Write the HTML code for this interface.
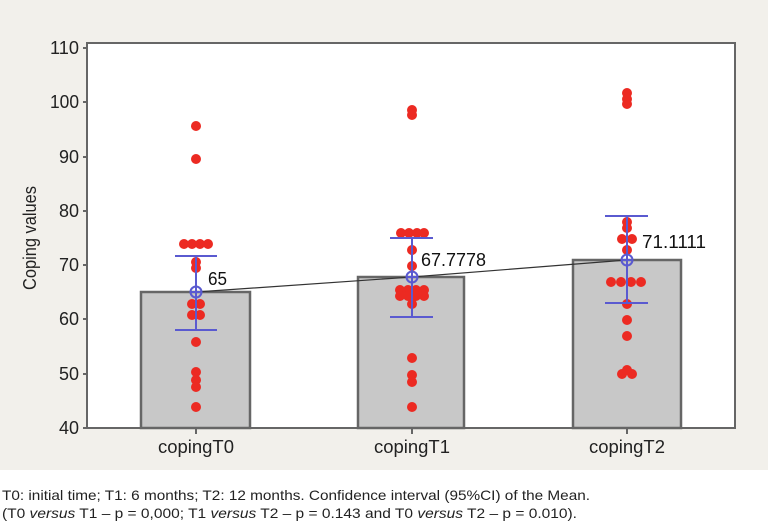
<!DOCTYPE html>
<html><head><style>
body{margin:0;width:768px;height:524px;overflow:hidden;background:#fff;font-family:"Liberation Sans",sans-serif}
</style></head><body>
<svg width="768" height="524" style="position:absolute;left:0;top:0" font-family="Liberation Sans, sans-serif">
<rect x="0" y="0" width="768" height="470" fill="#f2f0eb"/>
<rect x="87" y="43" width="648" height="385" fill="#fff" stroke="#666" stroke-width="2"/>
<g font-size="18" fill="#222" text-anchor="end">
<text x="79" y="54" textLength="29" lengthAdjust="spacingAndGlyphs">110</text><text x="79" y="108" textLength="29" lengthAdjust="spacingAndGlyphs">100</text><text x="79" y="163" textLength="20" lengthAdjust="spacingAndGlyphs">90</text><text x="79" y="217" textLength="20" lengthAdjust="spacingAndGlyphs">80</text><text x="79" y="271" textLength="20" lengthAdjust="spacingAndGlyphs">70</text><text x="79" y="325" textLength="20" lengthAdjust="spacingAndGlyphs">60</text><text x="79" y="380" textLength="20" lengthAdjust="spacingAndGlyphs">50</text><text x="79" y="434" textLength="20" lengthAdjust="spacingAndGlyphs">40</text>
</g>
<g stroke="#666" stroke-width="2"><line x1="83" y1="48" x2="87" y2="48"/><line x1="83" y1="102" x2="87" y2="102"/><line x1="83" y1="157" x2="87" y2="157"/><line x1="83" y1="211" x2="87" y2="211"/><line x1="83" y1="265" x2="87" y2="265"/><line x1="83" y1="319" x2="87" y2="319"/><line x1="83" y1="374" x2="87" y2="374"/><line x1="83" y1="428" x2="87" y2="428"/>
<line x1="196" y1="428" x2="196" y2="434"/><line x1="412" y1="428" x2="412" y2="434"/><line x1="627" y1="428" x2="627" y2="434"/></g>
<text x="36" y="238" font-size="18" fill="#222" text-anchor="middle" transform="rotate(-90 36 238)" textLength="104" lengthAdjust="spacingAndGlyphs">Coping values</text>
<g font-size="18" fill="#222" text-anchor="middle"><text x="196" y="453" textLength="76" lengthAdjust="spacingAndGlyphs">copingT0</text><text x="412" y="453" textLength="76" lengthAdjust="spacingAndGlyphs">copingT1</text><text x="627" y="453" textLength="76" lengthAdjust="spacingAndGlyphs">copingT2</text></g>
<g fill="#c8c8c8" stroke="#666" stroke-width="2.5">
<rect x="141" y="292" width="109" height="136"/><rect x="358" y="277" width="106" height="151"/><rect x="573" y="260" width="108" height="168"/></g>
<g fill="#ec2a22">
<circle cx="196" cy="126" r="5"/><circle cx="196" cy="159" r="5"/>
<circle cx="184" cy="244" r="5"/><circle cx="192" cy="244" r="5"/><circle cx="200" cy="244" r="5"/><circle cx="208" cy="244" r="5"/>
<circle cx="196" cy="262" r="5"/><circle cx="196" cy="268" r="5"/>
<circle cx="192" cy="304" r="5"/><circle cx="200" cy="304" r="5"/><circle cx="192" cy="315" r="5"/><circle cx="200" cy="315" r="5"/>
<circle cx="196" cy="342" r="5"/><circle cx="196" cy="372" r="5"/><circle cx="196" cy="380" r="5"/><circle cx="196" cy="387" r="5"/><circle cx="196" cy="407" r="5"/>
<circle cx="412" cy="110" r="5"/><circle cx="412" cy="115" r="5"/>
<circle cx="401" cy="233" r="5"/><circle cx="409" cy="233" r="5"/><circle cx="417" cy="233" r="5"/><circle cx="424" cy="233" r="5"/>
<circle cx="412" cy="250" r="5"/><circle cx="412" cy="266" r="5"/>
<circle cx="400" cy="290" r="5"/><circle cx="408" cy="290" r="5"/><circle cx="416" cy="290" r="5"/><circle cx="424" cy="290" r="5"/>
<circle cx="400" cy="296" r="5"/><circle cx="408" cy="296" r="5"/><circle cx="416" cy="296" r="5"/><circle cx="424" cy="296" r="5"/>
<circle cx="412" cy="304" r="5"/><circle cx="412" cy="358" r="5"/><circle cx="412" cy="375" r="5"/><circle cx="412" cy="382" r="5"/><circle cx="412" cy="407" r="5"/>
<circle cx="627" cy="93" r="5"/><circle cx="627" cy="99" r="5"/><circle cx="627" cy="104" r="5"/>
<circle cx="627" cy="222" r="5"/><circle cx="627" cy="228" r="5"/><circle cx="622" cy="239" r="5"/><circle cx="632" cy="239" r="5"/><circle cx="627" cy="250" r="5"/>
<circle cx="611" cy="282" r="5"/><circle cx="621" cy="282" r="5"/><circle cx="631" cy="282" r="5"/><circle cx="641" cy="282" r="5"/>
<circle cx="627" cy="304" r="5"/><circle cx="627" cy="320" r="5"/><circle cx="627" cy="336" r="5"/>
<circle cx="622" cy="374" r="5"/><circle cx="632" cy="374" r="5"/><circle cx="627" cy="370" r="5"/>
</g>
<polyline points="196,292 412,277 627,260" fill="none" stroke="#333" stroke-width="1.2"/>
<g stroke="#5a5ad0" stroke-width="2" fill="none">
<line x1="196" y1="256" x2="196" y2="330"/><line x1="175" y1="256" x2="217" y2="256"/><line x1="175" y1="330" x2="217" y2="330"/><circle cx="196" cy="292" r="5.5"/><line x1="190.5" y1="292" x2="201.5" y2="292"/><line x1="196" y1="286.5" x2="196" y2="297.5"/>
<line x1="412" y1="238" x2="412" y2="317"/><line x1="390" y1="238" x2="433" y2="238"/><line x1="390" y1="317" x2="433" y2="317"/><circle cx="412" cy="277" r="5.5"/><line x1="406.5" y1="277" x2="417.5" y2="277"/><line x1="412" y1="271.5" x2="412" y2="282.5"/>
<line x1="627" y1="216" x2="627" y2="303"/><line x1="605" y1="216" x2="648" y2="216"/><line x1="605" y1="303" x2="648" y2="303"/><circle cx="627" cy="260" r="5.5"/><line x1="621.5" y1="260" x2="632.5" y2="260"/><line x1="627" y1="254.5" x2="627" y2="265.5"/>
</g>
<g font-size="18" fill="#111"><text x="208" y="285" textLength="19" lengthAdjust="spacingAndGlyphs">65</text><text x="421" y="266" textLength="65" lengthAdjust="spacingAndGlyphs">67.7778</text><text x="642" y="248" textLength="64" lengthAdjust="spacingAndGlyphs">71.1111</text></g>
<g font-size="14" fill="#222">
<text x="2" y="500" textLength="588" lengthAdjust="spacingAndGlyphs">T0: initial time; T1: 6 months; T2: 12 months. Confidence interval (95%CI) of the Mean.</text>
<text x="2" y="518" textLength="575" lengthAdjust="spacingAndGlyphs">(T0 <tspan font-style="italic">versus</tspan> T1 – p = 0,000; T1 <tspan font-style="italic">versus</tspan> T2 – p = 0.143 and T0 <tspan font-style="italic">versus</tspan> T2 – p = 0.010).</text>
</g>
</svg>
</body></html>
